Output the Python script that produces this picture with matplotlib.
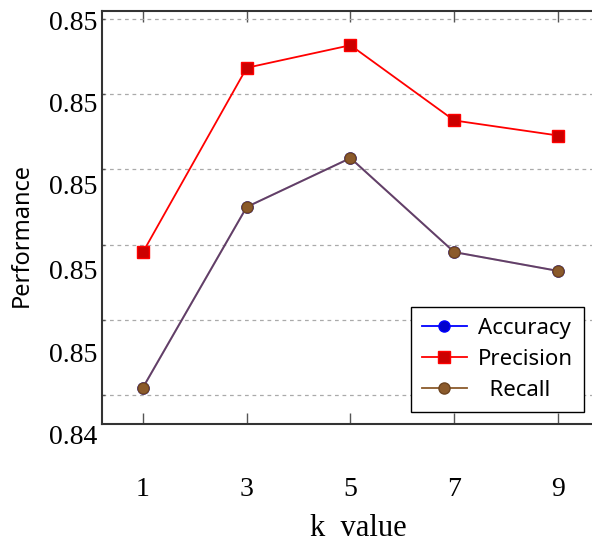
import numpy as np
import matplotlib
matplotlib.use("Agg")
import matplotlib.pyplot as plt
from matplotlib.lines import Line2D
from matplotlib.transforms import blended_transform_factory

# data
k_values = [1, 3, 5, 7, 9]
accuracy = [0.8422, 0.8470, 0.8483, 0.8458, 0.8453]
precision = [0.8458, 0.8507, 0.8513, 0.8493, 0.8489]
recall = [0.8422, 0.8470, 0.8483, 0.8458, 0.8453]

grid_vals = [0.842, 0.844, 0.846, 0.848, 0.850, 0.852]
ylab_pos = [0.85187, 0.84971, 0.84751, 0.84527, 0.84306, 0.84088]
ylab_txt = ["0.85", "0.85", "0.85", "0.85", "0.85", "0.84"]

serif = "Liberation Serif"
sans = "Noto Sans"

c_acc = "#0000ff"
c_prec = "#ff0000"
c_rec = "#8b5a2b"

fig = plt.figure(figsize=(5.92, 5.42), dpi=100)
ax = fig.add_axes([102/592, 118/542, 498/592, 413/542])

# accuracy markers underneath, recall on top, then a see-through blue line
ax.plot(k_values, accuracy, ls="none", marker="o", ms=8, mfc="#0000cc",
        mec=c_acc, zorder=3)
ax.plot(k_values, precision, color=c_prec, lw=1.3, marker="s", ms=9,
        mfc="#cc0000", mec=c_prec, zorder=3)
ax.plot(k_values, recall, color=c_rec, lw=1.4, zorder=4)
ax.plot(k_values, accuracy, color=c_acc, lw=1.4, alpha=0.3, zorder=5)
ax.plot(k_values, recall, ls="none", marker="o", ms=8, mfc=c_rec,
        mec="#6e4520", zorder=6)

ax.set_xlim(0.21, 9.81)
ax.set_ylim(0.84123, 0.85221)
ax.set_xticks(k_values)
ax.set_xticklabels([str(k) for k in k_values], fontfamily=serif, fontsize=20)
ax.set_yticks(grid_vals)
ax.set_yticklabels([])
ax.grid(axis="y", color="#aaaaaa", linestyle=(0, (3, 3)), lw=0.9)

ax.tick_params(axis="x", direction="in", top=True, length=8, width=1,
               color="#555555", pad=38)
ax.tick_params(axis="y", direction="in", length=2, width=1, color="#555555")

for s in ax.spines.values():
    s.set_color("#333333")
    s.set_linewidth(1.5)

trans = blended_transform_factory(ax.transAxes, ax.transData)
for pos, txt in zip(ylab_pos, ylab_txt):
    ax.text(-0.01, pos, txt, transform=trans, ha="right", va="center",
            fontfamily=serif, fontsize=20, clip_on=False)

fig.text(22/592, 1 - 235/542, "Performance", rotation=90, ha="center",
         va="center", fontfamily=sans, fontsize=17)
fig.text(358/592, 1 - 528/542, "k  value", ha="center", va="center",
         fontfamily=serif, fontsize=22)

handles = [
    Line2D([], [], color=c_acc, lw=1.3, marker="o", ms=8, mfc="#0000cc", mec=c_acc),
    Line2D([], [], color=c_prec, lw=1.3, marker="s", ms=8, mfc="#cc0000", mec=c_prec),
    Line2D([], [], color=c_rec, lw=1.3, marker="o", ms=8, mfc=c_rec, mec="#6e4520"),
]
leg = ax.legend(handles, ["Accuracy", "Precision", "  Recall"],
                loc="upper left", bbox_to_anchor=(411/592, 1 - 307/542),
                bbox_transform=fig.transFigure, borderaxespad=0,
                prop={"family": sans, "size": 16}, handlelength=2.0,
                handletextpad=0.5, fancybox=False, framealpha=1,
                edgecolor="black", labelspacing=0.44, borderpad=0.5)
leg.get_frame().set_linewidth(1.0)
leg.set_zorder(10)

fig.savefig("out.png", dpi=100)
